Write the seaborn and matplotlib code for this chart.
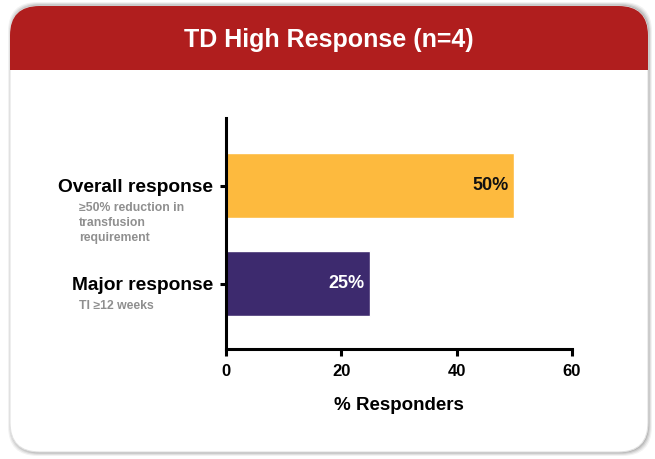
import matplotlib
matplotlib.use("Agg")
import matplotlib.pyplot as plt
import matplotlib.transforms as mtransforms
from matplotlib.patches import FancyBboxPatch, Rectangle
import seaborn as sns
import pandas as pd

# Chart data
categories = ["Overall response", "Major response"]
sublabels = ["\u226550% reduction in\ntransfusion\nrequirement", "TI \u226512 weeks"]
values = [50, 25]
value_labels = ["50%", "25%"]
bar_colors = ["#FDBA3E", "#3D2A6E"]
label_colors = ["#111111", "#FFFFFF"]
xticks = [0, 20, 40, 60]
title = "TD High Response (n=4)"
xlabel = "% Responders"

sns.set_theme(style="white")
plt.rcParams["font.family"] = ["Liberation Sans", "DejaVu Sans"]

W, H = 655, 459
fig = plt.figure(figsize=(W / 100, H / 100), dpi=100)
fig.patch.set_facecolor("white")


def fx(px):
    return px / W


def fy(py):
    return 1 - py / H


# Card with soft shadow, kept behind the axes
for off, alpha in [(4, 0.05), (3, 0.07), (2, 0.09), (1, 0.12)]:
    shadow = FancyBboxPatch((fx(10 - off + 2), fy(452 + off)), fx(638 + 2 * off - 2), (446 + 2 * off) / H,
                            boxstyle="round,pad=0,rounding_size=0.045", transform=fig.transFigure,
                            facecolor="black", edgecolor="none", alpha=alpha, zorder=-5,
                            mutation_aspect=W / H)
    fig.patches.append(shadow)
card = FancyBboxPatch((fx(10), fy(452)), fx(638), 446 / H,
                      boxstyle="round,pad=0,rounding_size=0.045", transform=fig.transFigure,
                      facecolor="white", edgecolor="#E2E2E2", linewidth=0.8, zorder=-4,
                      mutation_aspect=W / H)
fig.patches.append(card)

# Red header band with rounded top corners
header = FancyBboxPatch((fx(10), fy(70)), fx(638), 64 / H,
                        boxstyle="round,pad=0,rounding_size=0.045", transform=fig.transFigure,
                        facecolor="#B01E1E", edgecolor="none", zorder=-3, mutation_aspect=W / H)
fig.patches.append(header)
fig.patches.append(Rectangle((fx(10), fy(70)), fx(638), 30 / H, transform=fig.transFigure,
                             facecolor="#B01E1E", edgecolor="none", zorder=-3))
fig.text(fx(329), fy(40), title, ha="center", va="center", color="white",
         fontsize=18, fontweight="bold")

# Bar chart
ax = fig.add_axes([fx(226), fy(349), fx(572 - 226), (349 - 118) / H])
ax.set_facecolor("none")
df = pd.DataFrame({"category": categories, "value": values})
sns.barplot(data=df, x="value", y="category", hue="category", palette=bar_colors,
            orient="h", width=0.663, legend=False, ax=ax, saturation=1)

ax.set_xlim(0, 60)
ax.set_ylim(1.668, -0.689)
ax.set_xticks(xticks)
ax.set_xticklabels([str(t) for t in xticks], fontsize=12, fontweight="bold", color="black")
ax.set_yticks(range(len(categories)))
ax.set_yticklabels(categories, fontsize=13.8, fontweight="bold", color="black")
ax.set_xlabel(xlabel, fontsize=13.5, fontweight="bold", color="black", labelpad=13)
ax.set_ylabel("")

for side in ["top", "right"]:
    ax.spines[side].set_visible(False)
for side in ["left", "bottom"]:
    ax.spines[side].set_linewidth(2.2)
    ax.spines[side].set_color("black")
ax.tick_params(axis="x", direction="out", length=5, width=2.2, color="black", pad=6, bottom=True)
ax.tick_params(axis="y", direction="out", length=4.5, width=2.2, color="black", pad=5, left=True)

# Value labels inside the bar ends
for i, (v, lab, c) in enumerate(zip(values, value_labels, label_colors)):
    ax.annotate(lab, xy=(v, i), xytext=(-4, 0), textcoords="offset points",
                ha="right", va="center", fontsize=13, fontweight="bold", color=c)

# Grey explanatory text under each category
trans = mtransforms.blended_transform_factory(fig.transFigure, ax.transData)
for i, sub in enumerate(sublabels):
    fig.text(fx(79), i + 0.17, sub, transform=trans, ha="left", va="top",
             fontsize=8.8, fontweight="bold", color="#8F8F8F", linespacing=1.3)

fig.savefig("out.png", dpi=100, facecolor="white")
